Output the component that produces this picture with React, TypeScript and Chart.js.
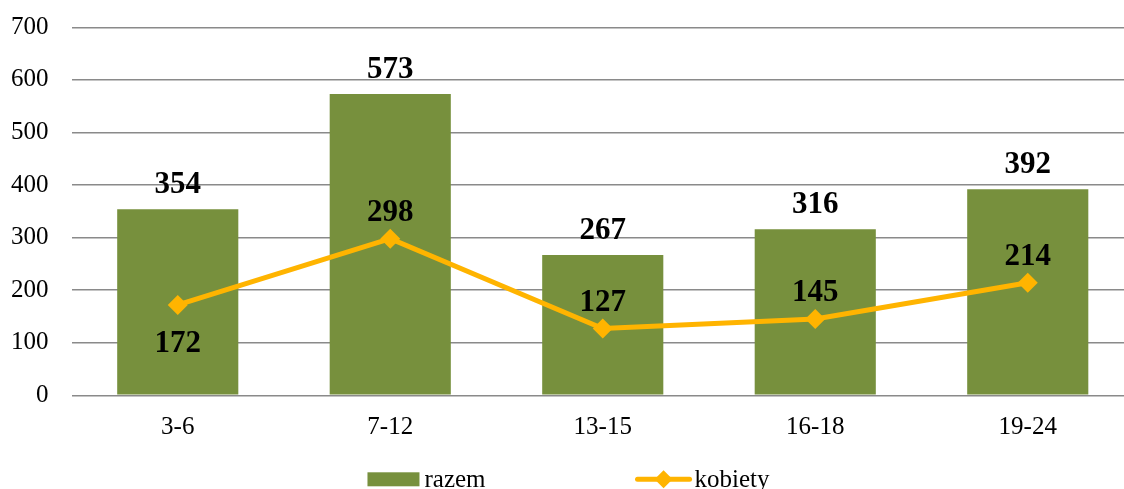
import React, { useEffect, useRef } from 'react';
import { Chart, registerables } from 'chart.js';

Chart.register(...registerables);

const categories = ['3-6', '7-12', '13-15', '16-18', '19-24'];
const razemValues = [354, 573, 267, 316, 392];
const kobietyValues = [172, 298, 127, 145, 214];
const seriesNames = ['razem', 'kobiety'];
const yMin = 0;
const yMax = 700;
const yStep = 100;

const kobietyLabelBelow = [true, false, false, false, false];

const BAR_COLOR = '#77903D';
const LINE_COLOR = '#FFB400';
const SERIF = '"Liberation Serif", "Times New Roman", serif';

const valueLabels = {
  id: 'valueLabels',
  afterDatasetsDraw(chart: any) {
    const ctx = chart.ctx;
    ctx.save();
    ctx.font = `bold 31px ${SERIF}`;
    ctx.fillStyle = '#000';
    ctx.textAlign = 'center';
    ctx.textBaseline = 'alphabetic';
    chart.getDatasetMeta(0).data.forEach((el: any, i: number) => {
      ctx.fillText(String(razemValues[i]), el.x, el.y - 16);
    });
    chart.getDatasetMeta(1).data.forEach((el: any, i: number) => {
      const below = kobietyLabelBelow[i];
      ctx.fillText(String(kobietyValues[i]), el.x, below ? el.y + 47 : el.y - 18);
    });
    ctx.restore();
  },
};

const customLegend = {
  id: 'customLegend',
  afterDraw(chart: any) {
    const ctx = chart.ctx;
    const width = chart.width;
    ctx.save();
    ctx.font = `25px ${SERIF}`;
    const w1 = ctx.measureText(seriesNames[0]).width;
    const w2 = ctx.measureText(seriesNames[1]).width;
    const boxW = 52;
    const lineW = 56;
    const gapText = 5;
    const itemGap = 150;
    const total = boxW + gapText + w1 + itemGap + lineW + 3 + w2;
    let x = (width - total) / 2;
    const yc = chart.chartArea.bottom + 84;
    ctx.fillStyle = BAR_COLOR;
    ctx.fillRect(x, yc - 7, boxW, 14);
    x += boxW + gapText;
    ctx.fillStyle = '#000';
    ctx.textAlign = 'left';
    ctx.textBaseline = 'alphabetic';
    ctx.fillText(seriesNames[0], x, yc + 8);
    x += w1 + itemGap;
    ctx.strokeStyle = LINE_COLOR;
    ctx.lineWidth = 5;
    ctx.lineCap = 'round';
    ctx.beginPath();
    ctx.moveTo(x + 2, yc);
    ctx.lineTo(x + lineW - 2, yc);
    ctx.stroke();
    const cx = x + lineW / 2;
    const r = 9;
    ctx.fillStyle = LINE_COLOR;
    ctx.beginPath();
    ctx.moveTo(cx, yc - r);
    ctx.lineTo(cx + r, yc);
    ctx.lineTo(cx, yc + r);
    ctx.lineTo(cx - r, yc);
    ctx.closePath();
    ctx.fill();
    x += lineW + 3;
    ctx.fillStyle = '#000';
    ctx.fillText(seriesNames[1], x, yc + 8);
    ctx.restore();
  },
};

const zeroPad = (s: any) => {
  s.paddingTop = 0;
  s.paddingBottom = 0;
  s.paddingLeft = 0;
  s.paddingRight = 0;
};

export default function App() {
  const canvasRef = useRef<HTMLCanvasElement | null>(null);

  useEffect(() => {
    const canvas = canvasRef.current;
    if (!canvas) return;
    const chart = new Chart(canvas, {
      type: 'bar',
      data: {
        labels: categories,
        datasets: [
          {
            type: 'bar',
            label: seriesNames[0],
            data: razemValues,
            backgroundColor: BAR_COLOR,
            barPercentage: 0.57,
            categoryPercentage: 1.0,
            order: 1,
          },
          {
            type: 'line',
            label: seriesNames[1],
            data: kobietyValues,
            borderColor: LINE_COLOR,
            backgroundColor: LINE_COLOR,
            borderWidth: 5,
            pointStyle: 'rectRot',
            pointRadius: 10,
            pointBackgroundColor: LINE_COLOR,
            pointBorderWidth: 0,
            tension: 0,
            clip: false,
            order: 0,
          } as any,
        ],
      },
      options: {
        responsive: false,
        animation: false,
        devicePixelRatio: 1,
        layout: { autoPadding: false, padding: { top: 27.3, right: 3, left: 0, bottom: 0 } },
        plugins: {
          legend: { display: false },
          tooltip: { enabled: false },
        },
        scales: {
          x: {
            grid: { display: false, drawTicks: false },
            border: { display: false },
            ticks: {
              padding: 17,
              color: '#000',
              font: { family: SERIF, size: 25 },
            },
            afterFit: (s: any) => {
              s.height = 93.7;
              zeroPad(s);
            },
          },
          y: {
            min: yMin,
            max: yMax,
            ticks: {
              stepSize: yStep,
              padding: 23,
              color: '#000',
              font: { family: SERIF, size: 25 },
            },
            grid: { color: '#8a8a8a', lineWidth: 1.5, drawTicks: false },
            border: { display: false },
            afterFit: (s: any) => {
              s.width = 71.5;
              zeroPad(s);
            },
          },
        },
      },
      plugins: [valueLabels, customLegend],
    });
    return () => chart.destroy();
  }, []);

  return (
    <div
      style={{
        position: 'fixed',
        left: 0,
        top: 0,
        width: 1124,
        height: 489,
        overflow: 'hidden',
        background: '#fff',
      }}
    >
      <canvas
        ref={canvasRef}
        width={1137}
        height={489}
        style={{ display: 'block', width: 1137, height: 489 }}
      />
    </div>
  );
}
